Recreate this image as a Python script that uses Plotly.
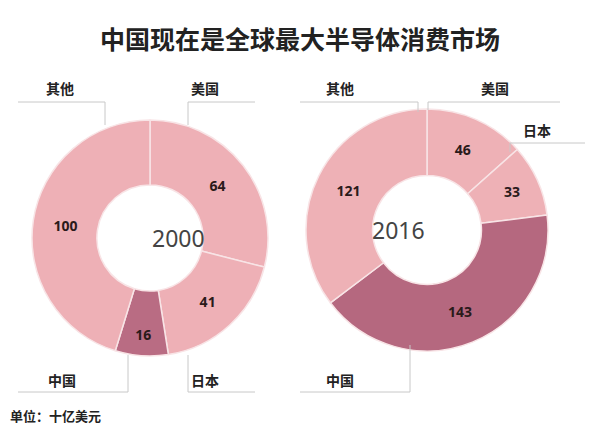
import plotly.graph_objects as go

labels = ["美国", "日本", "中国", "其他"]
values_2000 = [64, 41, 16, 100]
values_2016 = [46, 33, 143, 121]
years = ["2000", "2016"]
colors_2000 = ["#eeb0b6", "#eeb0b6", "#b96c83", "#eeb0b6"]
colors_2016 = ["#eeb1b6", "#eeb1b6", "#b5687f", "#eeb1b6"]

W, H = 600, 442
OFF = 8  # page body margin
def px(x): return (x - OFF) / W
def py(y): return 1 - (y - OFF) / H

fig = go.Figure()
for vals, cols, dom in [(values_2000, colors_2000, ([32, 268], [120, 356])),
                        (values_2016, colors_2016, ([306, 548], [108, 352]))]:
    fig.add_trace(go.Pie(
        labels=labels, values=vals, hole=0.45, sort=False, direction="clockwise",
        rotation=0, marker=dict(colors=cols, line=dict(color="#f8e4e6", width=1.5)),
        textinfo="value", textposition="inside", insidetextorientation="horizontal",
        textfont=dict(family="Noto Sans", size=14, color="#2a1a1a", weight="bold"),
        showlegend=False, hoverinfo="label+value",
        domain=dict(x=[px(dom[0][0]), px(dom[0][1])], y=[py(dom[1][1]), py(dom[1][0])])))

shapes = []
def line(x0, y0, x1, y1):
    shapes.append(dict(type="line", xref="paper", yref="paper", x0=px(x0), y0=py(y0),
                       x1=px(x1), y1=py(y1), line=dict(color="#c8c8c8", width=1)))
ann = []
def lab(x, y, t, size=14):
    ann.append(dict(x=px(x), y=py(y), xref="paper", yref="paper", text="<b>" + t + "</b>", showarrow=False,
                    font=dict(family="Noto Sans CJK SC", size=size, color="#222"), xanchor="center", yanchor="middle"))

# left chart
line(18, 102, 105, 102); line(105, 102, 105, 125); lab(60, 88, "其他")
line(188, 102, 255, 102); line(188, 102, 188, 125); lab(205, 88, "美国")
line(18, 392, 128, 392); line(128, 355, 128, 392); lab(62, 380, "中国")
line(188, 392, 255, 392); line(188, 355, 188, 392); lab(205, 380, "日本")
# right chart
line(300, 102, 418, 102); line(418, 102, 418, 112); lab(340, 88, "其他")
line(428, 102, 560, 102); line(428, 102, 428, 110); lab(495, 88, "美国")
line(510, 143, 585, 143); line(510, 143, 510, 152); lab(537, 130, "日本")
line(300, 392, 410, 392); line(410, 345, 410, 392); lab(340, 380, "中国")

for x, y, t in [(150, 238, years[0]), (427, 230, years[1])]:
    ann.append(dict(x=px(x), y=py(y), xref="paper", yref="paper", text=t, showarrow=False,
                    yanchor="middle", font=dict(family="Noto Sans", size=23, color="#444")))
ann.append(dict(x=px(300), y=py(38), xref="paper", yref="paper", text="<b>中国现在是全球最大半导体消费市场</b>",
                showarrow=False, yanchor="middle", font=dict(family="Noto Sans CJK SC", size=25, color="#222")))
ann.append(dict(x=px(8), y=py(415), xref="paper", yref="paper", text="<b>单位：十亿美元</b>", xanchor="left",
                yanchor="middle", showarrow=False, font=dict(family="Noto Sans CJK SC", size=13, color="#222")))

fig.update_layout(width=W, height=H, margin=dict(l=0, r=0, t=0, b=0), paper_bgcolor="white",
                  shapes=shapes, annotations=ann)
fig.write_html("out.html")
